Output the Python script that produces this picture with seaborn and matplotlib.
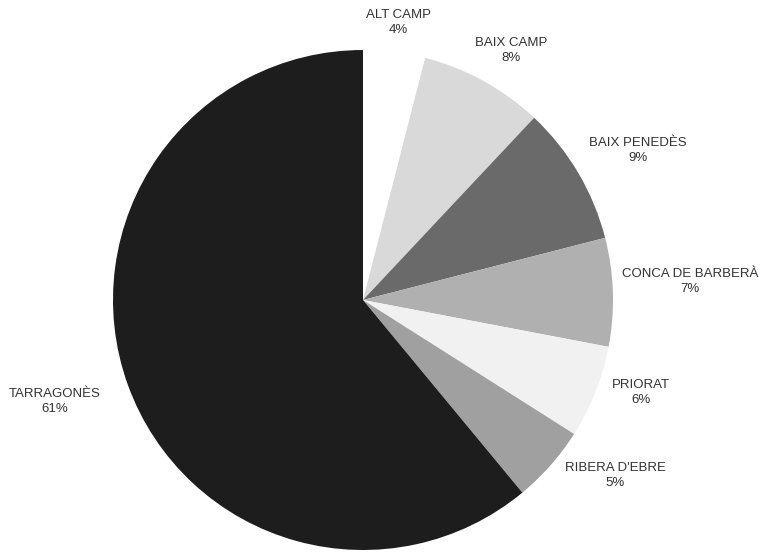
import numpy as np
import matplotlib
matplotlib.use("Agg")
import matplotlib.pyplot as plt
import seaborn as sns

# --- data ---
comarques = ["ALT CAMP", "BAIX CAMP", "BAIX PENEDÈS", "CONCA DE BARBERÀ",
             "PRIORAT", "RIBERA D'EBRE", "TARRAGONÈS"]
percent = [4, 8, 9, 7, 6, 5, 61]

# --- styling ---
grays = ["#ffffff", "#d9d9d9", "#6a6a6a", "#b0b0b0", "#f1f1f1", "#a0a0a0", "#1d1d1d"]
label_dist = [1.12, 1.16, 1.25, 1.31, 1.17, 1.23, 1.30]
label_shift = [0.0, 2.0, 2.1, -1.5, -3.2, -6.6, 1.6]  # degrees, clockwise

sns.set_theme(style="white")
plt.rcParams['font.family'] = ['Liberation Sans', 'DejaVu Sans']

W, H = 770, 553
fig = plt.figure(figsize=(W / 100, H / 100), dpi=100)
ax = fig.add_axes([0, 0, 1, 1])

cx, cy, r = 363, 253, 250
wedges, _ = ax.pie(percent, colors=grays, startangle=90, counterclock=False,
                   radius=r, center=(cx, cy), frame=True,
                   wedgeprops=dict(linewidth=0))
ax.set_xlim(0, W)
ax.set_ylim(0, H)
ax.set_aspect('equal')
ax.axis('off')

for w, name, p, d, s in zip(wedges, comarques, percent, label_dist, label_shift):
    ang = np.deg2rad((w.theta1 + w.theta2) / 2 - s)
    x = cx + d * r * np.cos(ang)
    y = cy + d * r * np.sin(ang)
    ax.text(x, y, f"{name}\n{p}%", ha='center', va='center', fontsize=9.5,
            color='#333333', linespacing=1.35)

fig.savefig("out.png", dpi=100, facecolor='white')
